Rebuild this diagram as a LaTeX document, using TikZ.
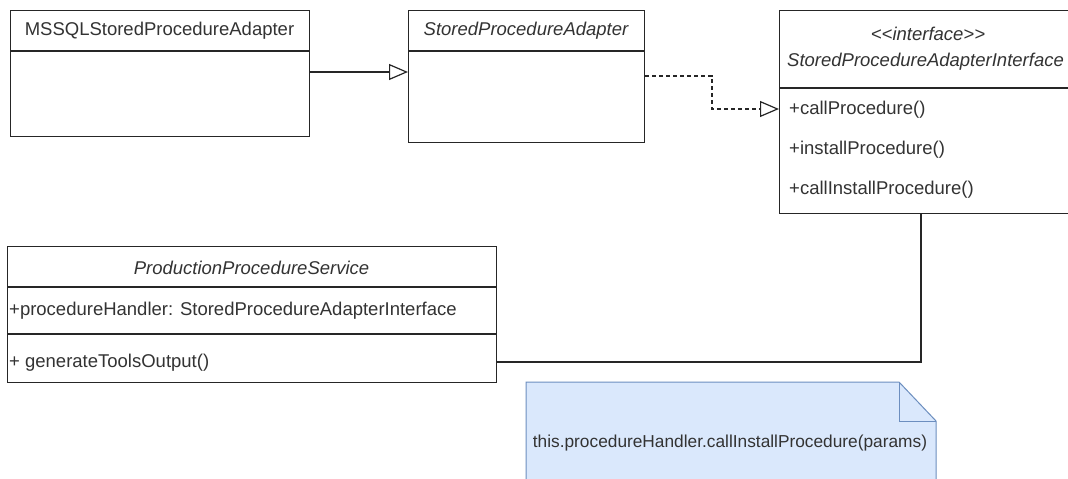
\documentclass[tikz,border=0pt]{standalone}
\usepackage{fontspec}
\setmainfont{Liberation Sans}
\usetikzlibrary{arrows.meta}
\definecolor{txtc}{HTML}{333333}
\definecolor{notefill}{HTML}{DAE8FC}
\definecolor{notedraw}{HTML}{6C8EBF}
\begin{document}
\begin{tikzpicture}[x=1pt,y=-1pt,
  umlbox/.style={draw=black!85, line width=1.2pt, fill=white, rectangle, inner sep=0pt, anchor=north west},
  divline/.style={draw=black!85, line width=1.2pt},
  txt/.style={text=txtc, font=\fontsize{18.5}{21}\selectfont, inner sep=0pt},
  itxt/.style={txt, font=\fontsize{18.5}{21}\selectfont\itshape},
  notetxt/.style={txt, font=\fontsize{17.3}{21}\selectfont},
  conn/.style={draw=black!85, line width=1.2pt},
  gen/.style={conn, -{Triangle[open, length=19pt, width=16pt, fill=white]}},
  real/.style={gen, dash pattern=on 4pt off 3pt}
]
\useasboundingbox (0,0) rectangle (1068,479);
\clip (0,0) rectangle (1068,479);
\fill[white] (0,0) rectangle (1068,479);

% MSSQLStoredProcedureAdapter
\node[umlbox, minimum width=299pt, minimum height=126pt] (mssql) at (10,10) {};
\draw[divline] (10,51) -- (309,51);
\node[txt] (mssqlname) at (159.5,31) {MSSQLStoredProcedureAdapter};

% StoredProcedureAdapter
\node[umlbox, minimum width=236pt, minimum height=132pt] (spa) at (408,10) {};
\draw[divline] (408,51) -- (644,51);
\node[itxt] (spaname) at (526,31) {StoredProcedureAdapter};

% Interface
\node[umlbox, minimum width=298pt, minimum height=203pt] (iface) at (779,10) {};
\draw[divline] (779,88) -- (1077,88);
\node[itxt] (stereo) at (928,34) {<\kern0pt<interface>\kern0pt>};
\node[itxt, anchor=west] (ifacename) at (787,62) {StoredProcedureAdapterInterface};
\node[txt, anchor=west] (m1) at (789,110) {+callProcedure()};
\node[txt, anchor=west] (m2) at (789,150) {+installProcedure()};
\node[txt, anchor=west] (m3) at (789,190) {+callInstallProcedure()};

% ProductionProcedureService
\node[umlbox, minimum width=489pt, minimum height=136pt] (pps) at (7,246) {};
\draw[divline] (7,287) -- (496,287);
\draw[divline] (7,334) -- (496,334);
\node[itxt] (ppsname) at (251.5,268) {ProductionProcedureService};
\node[txt, anchor=west] (attr) at (9,311) {+procedureHandler: StoredProcedureAdapterInterface};
\node[txt, anchor=west] (meth) at (9,363) {+ generateToolsOutput()};

% Note
\filldraw[fill=notefill, draw=notedraw, line width=1pt]
  (526,382) -- (899,382) -- (936,421) -- (936,485) -- (526,485) -- cycle;
\draw[draw=notedraw, line width=1pt] (899,382) -- (899,421) -- (936,421);
\node[notetxt] (note) at (730,443) {this.procedureHandler.callInstallProcedure(params)};

% Connectors
\draw[gen] (mssql.east |- 0,72) -- (spa.west |- 0,72);
\draw[real] (spa.east |- 0,76) -- (712,76) -- (712,109) -- (iface.west |- 0,109);
\draw[conn] (pps.east |- 0,362) -- (921,362) -- (iface.south -| 921,0);
\end{tikzpicture}
\end{document}
